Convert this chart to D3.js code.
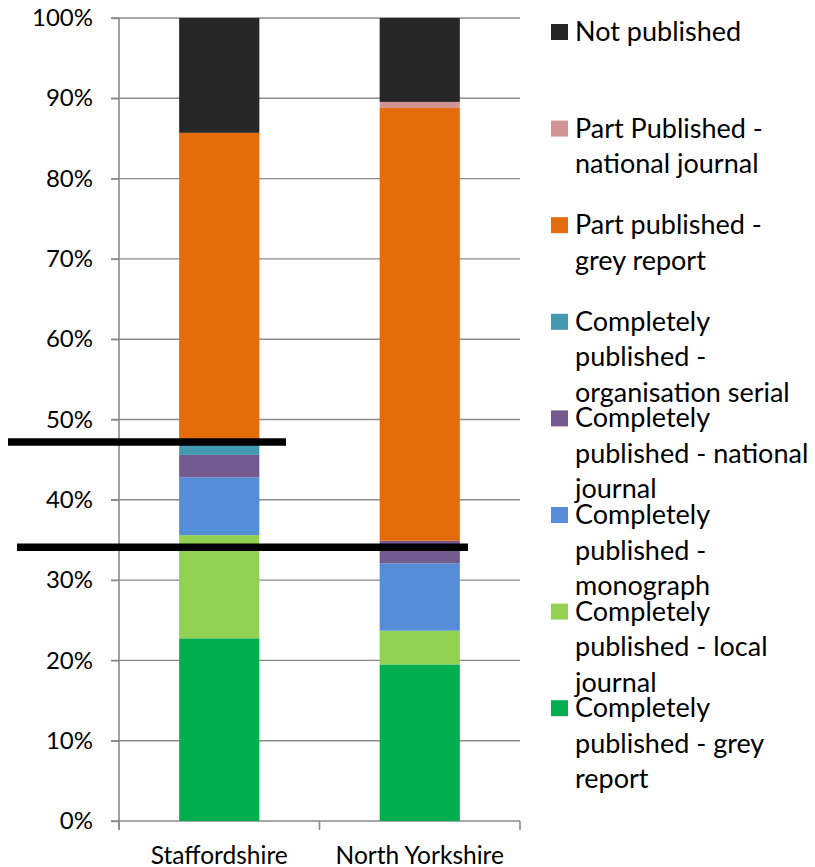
<!DOCTYPE html>
<html lang="en">
<head>
<meta charset="UTF-8">
<title>Publication status</title>
<script src="https://cdn.jsdelivr.net/npm/d3@7"></script>
<style>
  body { margin: 0; background: #fff; }
  text { font-family: Lato, "Open Sans", sans-serif; fill: #000; }
</style>
</head>
<body>
<script>
// categories and series (percent of projects), bottom of stack first
const categories = ["Staffordshire", "North Yorkshire"]
const compGrey = [22.75, 19.5]
const compLocal = [12.85, 4.2]
const compMonograph = [7.2, 8.4]
const compNational = [2.8, 2.8]
const compOrgSerial = [1.7, 0]
const partGrey = [38.4, 53.9]
const partNational = [0, 0.75]
const notPublished = [14.3, 10.45]

const seriesNames = [
  "Completely published - grey report",
  "Completely published - local journal",
  "Completely published - monograph",
  "Completely published - national journal",
  "Completely published - organisation serial",
  "Part published - grey report",
  "Part Published - national journal",
  "Not published"
]
const seriesValues = [compGrey, compLocal, compMonograph, compNational, compOrgSerial, partGrey, partNational, notPublished]
const colors = ["#00ae4f", "#93d152", "#558ed6", "#735a8f", "#4299b0", "#e46c0b", "#d29393", "#262626"]

// legend text, already wrapped like the original
const legendLines = [
  ["Completely", "published - grey", "report"],
  ["Completely", "published - local", "journal"],
  ["Completely", "published -", "monograph"],
  ["Completely", "published - national", "journal"],
  ["Completely", "published -", "organisation serial"],
  ["Part published -", "grey report"],
  ["Part Published -", "national journal"],
  ["Not published"]
]
const yTicks = [0, 0.1, 0.2, 0.3, 0.4, 0.5, 0.6, 0.7, 0.8, 0.9, 1]

const width = 815
const height = 867

// table for d3.stack
const table = categories.map((c, i) => {
  const row = { category: c }
  seriesNames.forEach((s, j) => { row[s] = seriesValues[j][i] })
  return row
})

const stack = d3.stack().keys(seriesNames).offset(d3.stackOffsetExpand)
const stacked = stack(table)

const x = d3.scaleBand().domain(categories).range([119, 520]).paddingInner(0.6).paddingOuter(0.3)
const y = d3.scaleLinear().domain([0, 1]).range([821, 18])
const color = d3.scaleOrdinal().domain(seriesNames).range(colors)

const svg = d3.select("body").append("svg")
  .attr("width", width)
  .attr("height", height)

// gridlines
svg.append("g")
  .selectAll("line")
  .data(yTicks)
  .enter().append("line")
  .attr("x1", 111)
  .attr("x2", 520)
  .attr("y1", d => y(d))
  .attr("y2", d => y(d))
  .attr("stroke", "#8a8a8a")
  .attr("stroke-width", 1.4)

// bars
svg.append("g")
  .selectAll("g")
  .data(stacked)
  .enter().append("g")
  .attr("fill", d => color(d.key))
  .selectAll("rect")
  .data(d => d)
  .enter().append("rect")
  .attr("x", d => x(d.data.category))
  .attr("width", x.bandwidth())
  .attr("y", d => y(d[1]))
  .attr("height", d => y(d[0]) - y(d[1]))

// y axis
const yAxis = svg.append("g")
  .attr("transform", "translate(119,0)")
  .call(d3.axisLeft(y).tickValues(yTicks).tickFormat(d3.format(".0%")).tickSize(8).tickPadding(18))
yAxis.select(".domain").attr("stroke", "#8a8a8a").attr("stroke-width", 1.6).attr("d", "M0,18V830")
yAxis.selectAll(".tick line").attr("stroke", "#8a8a8a").attr("stroke-width", 1.4)
yAxis.selectAll(".tick text").style("font-size", "24px").attr("fill", "#000")

// x axis: labels centred, ticks on band boundaries
const xAxis = svg.append("g")
  .attr("transform", "translate(0,821)")
  .call(d3.axisBottom(x).tickSize(0).tickPadding(26))
xAxis.select(".domain").remove()
xAxis.selectAll(".tick text").style("font-size", "24.5px").attr("fill", "#000")

const bounds = [x.range()[0], (x("Staffordshire") + x.bandwidth() + x("North Yorkshire")) / 2, x.range()[1]]
svg.append("g")
  .selectAll("line")
  .data(bounds)
  .enter().append("line")
  .attr("x1", d => d)
  .attr("x2", d => d)
  .attr("y1", 821)
  .attr("y2", 830)
  .attr("stroke", "#8a8a8a")
  .attr("stroke-width", 1.6)

// hand-drawn black marker lines on top
const marks = [
  { v: 0.472, x0: 8, x1: 286 },
  { v: 0.341, x0: 17, x1: 468 }
]
svg.append("g")
  .selectAll("line")
  .data(marks)
  .enter().append("line")
  .attr("x1", d => d.x0)
  .attr("x2", d => d.x1)
  .attr("y1", d => y(d.v))
  .attr("y2", d => y(d.v))
  .attr("stroke", "#000")
  .attr("stroke-width", 7.5)

// legend, top item is the last series
const legend = svg.append("g")
const items = legend.selectAll("g")
  .data(seriesNames.map((s, i) => ({ name: s, lines: legendLines[i] })).reverse())
  .enter().append("g")
  .attr("transform", (d, i) => `translate(551, ${32 + i * 96.6})`)

items.append("rect")
  .attr("x", 0)
  .attr("y", -8)
  .attr("width", 17)
  .attr("height", 16)
  .attr("fill", d => color(d.name))

items.append("text")
  .style("font-size", "27px")
  .selectAll("tspan")
  .data(d => d.lines)
  .enter().append("tspan")
  .attr("x", 24)
  .attr("y", (d, i) => 9 + i * 35.5)
  .text(d => d)
</script>
</body>
</html>
